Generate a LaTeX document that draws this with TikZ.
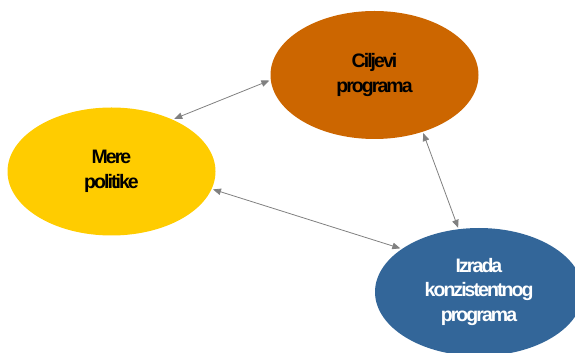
\documentclass[tikz,border=0pt]{standalone}
\usepackage{fontspec}
\setmainfont{Liberation Sans}[LetterSpace=-10]
\usetikzlibrary{arrows.meta,shapes.geometric}
\definecolor{cOrange}{HTML}{CC6600}
\definecolor{cYellow}{HTML}{FFCC00}
\definecolor{cBlue}{HTML}{336699}
\definecolor{cLine}{HTML}{808080}
\tikzset{
  bubble/.style={ellipse, minimum width=208pt, minimum height=128pt, inner sep=0pt,
    outer sep=1.5pt, align=center, font=\bfseries\fontsize{19.5}{24.5}\selectfont},
  link/.style={draw=cLine, line width=0.8pt, {Triangle[length=8pt,width=6.5pt]}-{Triangle[length=8pt,width=6.5pt]}}
}
\begin{document}
\begin{tikzpicture}[x=1pt,y=1pt]
\useasboundingbox (0,0) rectangle (575,353);
\clip (0,0) rectangle (575,353);
\node[bubble, fill=cOrange, text=black] (cilj) at (374.5,278) {Ciljevi\\programa};
\node[bubble, fill=cYellow, text=black] (mere) at (111.5,181.5) {Mere\\politike};
\node[bubble, fill=cBlue, text=white] (izr) at (479,61) {Izrada\\konzistentnog\\programa};
\draw[link] (mere.40) -- (cilj.183.8);
\draw[link] (mere.-10.5) -- (izr.151.5);
\draw[link] (cilj.-50) -- (izr.108);
\end{tikzpicture}
\end{document}
